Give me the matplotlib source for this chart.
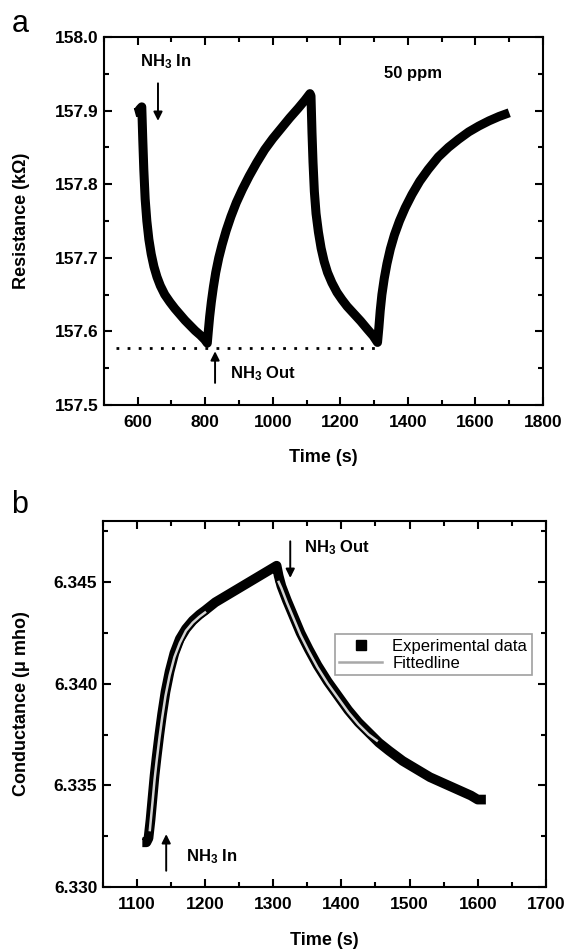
#!/usr/bin/env python3
"""Figure: NH3 sensor response - resistance cycles (a) and conductance fit (b)."""
import matplotlib
matplotlib.use("Agg")
import matplotlib.pyplot as plt
import matplotlib.patheffects as pe
from matplotlib.lines import Line2D
from matplotlib.ticker import MultipleLocator, FormatStrFormatter

matplotlib.rcParams["font.family"] = ["Liberation Sans", "DejaVu Sans"]
matplotlib.rcParams["mathtext.fontset"] = "custom"
matplotlib.rcParams["mathtext.rm"] = "Liberation Sans:bold"
matplotlib.rcParams["mathtext.default"] = "rm"

# ── panel a: resistance (kΩ) vs time (s) ─────────────────────────────────────
res_t = [592, 600, 606, 612, 615, 618, 622, 627, 633, 640, 648, 657, 667, 680,
         695, 710, 725, 740, 755, 770, 785, 798, 806,
         809, 813, 818, 824, 831, 840, 850, 862, 876, 892, 910, 930, 952, 976,
         1000, 1025, 1050, 1075, 1095, 1110,
         1113, 1116, 1119, 1123, 1128, 1135, 1143, 1152, 1162, 1175, 1190,
         1205, 1220, 1240, 1260, 1280, 1297, 1310,
         1314, 1318, 1323, 1330, 1338, 1348, 1360, 1375, 1392, 1412, 1435,
         1460, 1490, 1520, 1550, 1580, 1610, 1640, 1670, 1700]
res_r = [157.897, 157.898, 157.902, 157.905, 157.860, 157.820, 157.780,
         157.750, 157.725, 157.705, 157.688, 157.674, 157.662, 157.650,
         157.640, 157.631, 157.623, 157.615, 157.608, 157.601, 157.595,
         157.589, 157.584,
         157.600, 157.620, 157.640, 157.660, 157.680, 157.700, 157.718,
         157.737, 157.756, 157.775, 157.793, 157.811, 157.829, 157.847,
         157.862, 157.876, 157.890, 157.903, 157.914, 157.923,
         157.920, 157.870, 157.830, 157.790, 157.760, 157.735, 157.713,
         157.695, 157.680, 157.666, 157.653, 157.643, 157.634, 157.624,
         157.614, 157.603, 157.594, 157.585,
         157.605, 157.628, 157.650, 157.672, 157.692, 157.712, 157.731,
         157.750, 157.768, 157.786, 157.804, 157.820, 157.837, 157.850,
         157.861, 157.871, 157.879, 157.886, 157.892, 157.897]
baseline_r = 157.577
baseline_t = [537, 1318]

# ── panel b: conductance (µmho) vs time (s) ──────────────────────────────────
cond_t = [1108, 1114, 1117, 1120, 1123, 1126, 1129, 1133, 1137, 1142, 1148,
          1155, 1163, 1172, 1182, 1192, 1200, 1215, 1230, 1245, 1260, 1275,
          1290, 1300, 1305,
          1308, 1312, 1320, 1330, 1340, 1352, 1365, 1380, 1395, 1410, 1425,
          1440, 1455, 1470, 1490, 1510, 1530, 1550, 1570, 1590, 1600, 1612]
cond_g = [6.3322, 6.3322, 6.3324, 6.3333, 6.3344, 6.3355, 6.3364, 6.3375,
          6.3385, 6.3396, 6.3406, 6.3415, 6.3422, 6.3427, 6.3431, 6.3434,
          6.3436, 6.3440, 6.3443, 6.3446, 6.3449, 6.3452, 6.3455, 6.3457,
          6.3458,
          6.3453, 6.3448, 6.3441, 6.3433, 6.3425, 6.3417, 6.3409, 6.3401,
          6.3394, 6.3387, 6.3381, 6.3376, 6.3371, 6.3367, 6.3362, 6.3358,
          6.3354, 6.3351, 6.3348, 6.3345, 6.3343, 6.3343]

fit_rise_t = [1119, 1123, 1126, 1129, 1133, 1137, 1142, 1148, 1155, 1163,
              1172, 1182, 1192, 1200]
fit_rise_g = [6.3328, 6.3342, 6.3353, 6.3362, 6.3373, 6.3383, 6.3394, 6.3404,
              6.3413, 6.3420, 6.3426, 6.3430, 6.3433, 6.3435]
fit_decay_t = [1308, 1312, 1320, 1330, 1340, 1352, 1365, 1380, 1395, 1410,
               1425, 1440, 1452]
fit_decay_g = [6.3450, 6.3447, 6.3440, 6.3432, 6.3424, 6.3416, 6.3408,
               6.3400, 6.3393, 6.3386, 6.3380, 6.3375, 6.3372]

# ── figure ───────────────────────────────────────────────────────────────────
fig = plt.figure(figsize=(5.68, 9.5), dpi=100)
ax_a = fig.add_axes([0.183, 0.5737, 0.773, 0.3874])
ax_b = fig.add_axes([0.181, 0.0663, 0.780, 0.3853])

TICK_FS = 12.5
LABEL_FS = 13


def style_axes(ax):
    for spine in ax.spines.values():
        spine.set_linewidth(1.5)
    ax.tick_params(which="both", direction="in", top=True, right=True,
                   width=1.5, labelsize=TICK_FS)
    ax.tick_params(which="major", length=5.5)
    ax.tick_params(which="minor", length=3.5)
    ax.tick_params(axis="x", pad=7)
    ax.tick_params(axis="y", pad=4)
    for lab in ax.get_xticklabels() + ax.get_yticklabels():
        lab.set_fontweight("bold")


def arrow(ax, x, y_from, y_to):
    ax.annotate("", xy=(x, y_to), xytext=(x, y_from),
                arrowprops=dict(arrowstyle="-|>", color="black", lw=1.4,
                                mutation_scale=13, shrinkA=0, shrinkB=0))


# panel a
ax_a.plot(res_t, res_r, color="black", lw=6.5, solid_joinstyle="round",
          solid_capstyle="butt")
ax_a.plot(baseline_t, [baseline_r, baseline_r], color="black", lw=2,
          linestyle=(0, (1, 3)))
ax_a.set_xlim(500, 1800)
ax_a.set_ylim(157.5, 158.0)
ax_a.xaxis.set_major_locator(MultipleLocator(200))
ax_a.xaxis.set_minor_locator(MultipleLocator(100))
ax_a.yaxis.set_major_locator(MultipleLocator(0.1))
ax_a.yaxis.set_minor_locator(MultipleLocator(0.05))
ax_a.yaxis.set_major_formatter(FormatStrFormatter("%.1f"))
style_axes(ax_a)
ax_a.set_xlabel("Time (s)", fontsize=LABEL_FS, fontweight="bold", va="center")
ax_a.set_ylabel("Resistance (kΩ)", fontsize=LABEL_FS, fontweight="bold",
                va="center")
ax_a.xaxis.set_label_coords(0.5, -0.142)
ax_a.yaxis.set_label_coords(-0.187, 0.5)

ax_a.text(606, 157.966, "NH$_3$ In", fontsize=12, fontweight="bold",
          va="center", ha="left")
arrow(ax_a, 660, 157.937, 157.886)
ax_a.text(1415, 157.951, "50 ppm", fontsize=12, fontweight="bold",
          va="center", ha="center")
arrow(ax_a, 829, 157.530, 157.573)
ax_a.text(872, 157.543, "NH$_3$ Out", fontsize=12, fontweight="bold",
          va="center", ha="left")

# panel b
ax_b.plot(cond_t, cond_g, color="black", lw=7, solid_joinstyle="round",
          solid_capstyle="butt")
fit_fx = [pe.Stroke(linewidth=4.2, foreground="black"), pe.Normal()]
for ft, fg in ((fit_rise_t, fit_rise_g), (fit_decay_t, fit_decay_g)):
    ax_b.plot(ft, fg, color="#d4d4d4", lw=1.8, path_effects=fit_fx)
ax_b.set_xlim(1050, 1700)
ax_b.set_ylim(6.330, 6.348)
ax_b.xaxis.set_major_locator(MultipleLocator(100))
ax_b.xaxis.set_minor_locator(MultipleLocator(50))
ax_b.yaxis.set_major_locator(MultipleLocator(0.005))
ax_b.yaxis.set_minor_locator(MultipleLocator(0.0025))
ax_b.yaxis.set_major_formatter(FormatStrFormatter("%.3f"))
style_axes(ax_b)
ax_b.set_xlabel("Time (s)", fontsize=LABEL_FS, fontweight="bold", va="center")
ax_b.set_ylabel("Conductance (μ mho)", fontsize=LABEL_FS, fontweight="bold",
                va="center")
ax_b.xaxis.set_label_coords(0.5, -0.145)
ax_b.yaxis.set_label_coords(-0.183, 0.5)

arrow(ax_b, 1325, 6.3470, 6.3452)
ax_b.text(1345, 6.3467, "NH$_3$ Out", fontsize=12, fontweight="bold",
          va="center", ha="left")
arrow(ax_b, 1143, 6.3308, 6.3326)
ax_b.text(1172, 6.3315, "NH$_3$ In", fontsize=12, fontweight="bold",
          va="center", ha="left")

handles = [
    Line2D([], [], color="black", marker="s", linestyle="none", markersize=6.5),
    Line2D([], [], color="#a8a8a8", lw=1.8),
]
leg = ax_b.legend(handles, ["Experimental data", "Fittedline"],
                  loc="upper left", bbox_to_anchor=(0.524, 0.69),
                  fontsize=12, frameon=True, fancybox=False,
                  edgecolor="#888888", borderpad=0.25, labelspacing=0.15,
                  handlelength=2.6, handletextpad=0.6, borderaxespad=0)
leg.get_frame().set_linewidth(1.2)

# panel letters
fig.text(0.02, 0.975, "a", fontsize=22, va="center", ha="left")
fig.text(0.02, 0.468, "b", fontsize=22, va="center", ha="left")

fig.savefig("out.png", dpi=100)
plt.close(fig)
